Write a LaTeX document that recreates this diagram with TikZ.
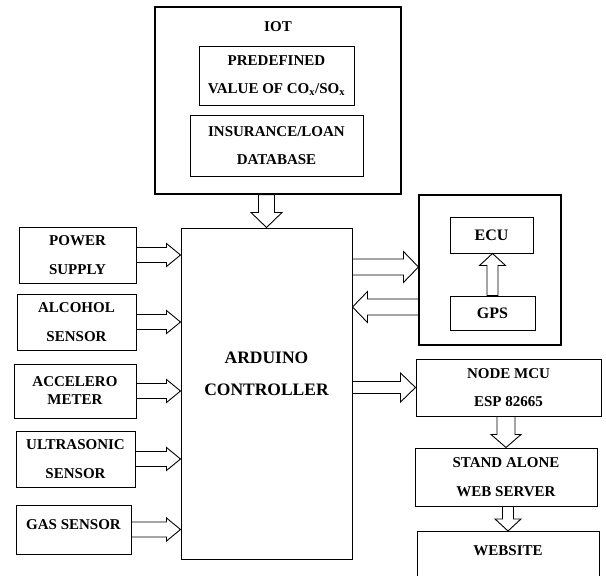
\documentclass[tikz,border=0pt]{standalone}
\usepackage{fontspec}
\setmainfont{Liberation Serif}
\usepackage{tikz}
\usetikzlibrary{calc}
\tikzset{
    bloco/.style={
        rectangle,
        draw,
        line width=1pt,
        align=center,
        inner sep=0pt,
        font=\bfseries\fontsize{15}{28.5}\selectfont
    },
    grupo/.style={bloco, line width=1.1pt},
    seta/.style n args={3}{
        draw,
        line width=0.9pt,
        line join=miter,
        to path={
            -- ($(\tikztostart)!#1!90:(\tikztotarget)$)
            -- ($(\tikztotarget)!#3!(\tikztostart)!#1!90:(\tikztotarget)$)
            -- ($(\tikztotarget)!#3!(\tikztostart)!#2!90:(\tikztotarget)$)
            -- (\tikztotarget)
            -- ($(\tikztotarget)!#3!(\tikztostart)!#2!-90:(\tikztotarget)$)
            -- ($(\tikztotarget)!#3!(\tikztostart)!#1!-90:(\tikztotarget)$)
            -- ($(\tikztostart)!#1!-90:(\tikztotarget)$)
            -- cycle
        }
    },
    fluxo/.style={seta={7.5pt}{11.5pt}{14pt}},
    fluxolargo/.style={seta={8pt}{15.5pt}{15pt}},
    fluxofino/.style={seta={5.5pt}{13pt}{12pt}}
}

\begin{document}
\begin{tikzpicture}[x=1pt, y=-1pt]
        \useasboundingbox (0,0) rectangle (606,576);
        % IOT
        \node[grupo, minimum width=246pt, minimum height=187pt,
            label={[anchor=north, font=\bfseries\fontsize{15}{18}\selectfont, yshift=-12pt]north:IOT}] (iot) at (278,100.5) {};
        \node[bloco, minimum width=155pt, minimum height=59pt] (limite) at (276.5,75.5) {PREDEFINED\\VALUE OF CO\textsubscript{x}/SO\textsubscript{x}};
        \node[bloco, minimum width=173pt, minimum height=61pt] (banco) at (276.5,145.5) {INSURANCE/LOAN\\DATABASE};

        % controlador
        \node[bloco, minimum width=171pt, minimum height=331pt, text depth=39pt,
            font=\bfseries\fontsize{17.5}{32}\selectfont] (arduino) at (266.5,393.5) {ARDUINO\\CONTROLLER};

        % sensores
        \node[bloco, minimum width=117pt, minimum height=56pt] (fonte) at (77.5,255) {POWER\\SUPPLY};
        \node[bloco, minimum width=119pt, minimum height=56pt] (alcool) at (76.5,322) {ALCOHOL\\SENSOR};
        \node[bloco, minimum width=122pt, minimum height=54pt, font=\bfseries\fontsize{15}{18}\selectfont] (acel) at (75,391) {ACCELERO\\METER};
        \node[bloco, minimum width=119pt, minimum height=56pt] (ultra) at (75.5,459) {ULTRASONIC\\SENSOR};
        \node[bloco, minimum width=115pt, minimum height=49pt, text height=10pt, text depth=11pt] (gas) at (73.5,529.5) {GAS SENSOR};

        % ECU / GPS
        \node[grupo, minimum width=142pt, minimum height=150pt] (veiculo) at (490,270) {};
        \node[bloco, minimum width=83pt, minimum height=36pt, font=\bfseries\fontsize{16}{19}\selectfont] (ecu) at (491.5,235) {ECU};
        \node[bloco, minimum width=85pt, minimum height=34pt, font=\bfseries\fontsize{16}{19}\selectfont] (gps) at (492.5,313) {GPS};

        % web
        \node[bloco, minimum width=185pt, minimum height=57pt] (nodemcu) at (508.5,387.5) {NODE MCU\\ESP 82665};
        \node[bloco, minimum width=182pt, minimum height=58pt] (servidor) at (506,477) {STAND ALONE\\WEB SERVER};
        \node[bloco, anchor=north, minimum width=182pt, minimum height=50pt, text height=10pt, text depth=12pt] (website) at (508,531) {WEBSITE};

        \coordinate (iotsaida) at (iot.south -| arduino.north);
        \coordinate (pedido) at (arduino.east |- 0,267);
        \coordinate (pedidofim) at (veiculo.west |- 0,267);
        \coordinate (resposta) at (veiculo.west |- 0,307);
        \coordinate (respostafim) at (arduino.east |- 0,307);

        \draw[fluxolargo] (iotsaida) to (arduino.north);
        \draw[fluxo] (fonte.east) to (arduino.west |- fonte.east);
        \draw[fluxo] (alcool.east) to (arduino.west |- alcool.east);
        \draw[fluxo] (acel.east) to (arduino.west |- acel.east);
        \draw[fluxo] (ultra.east) to (arduino.west |- ultra.east);
        \draw[fluxo] (gas.east) to (arduino.west |- gas.east);
        \draw[fluxolargo] (pedido) to (pedidofim);
        \draw[fluxolargo] (resposta) to (respostafim);
        \draw[fluxofino] (gps.north) to (gps.north |- ecu.south);
        \draw[seta={6pt}{14.5pt}{15pt}] (arduino.east |- nodemcu.west) to (nodemcu.west);
        \draw[seta={9pt}{15pt}{13pt}] (servidor.north |- nodemcu.south) to (servidor.north);
        \draw[fluxofino] (website.north |- servidor.south) to (website.north);
\end{tikzpicture}
\end{document}
